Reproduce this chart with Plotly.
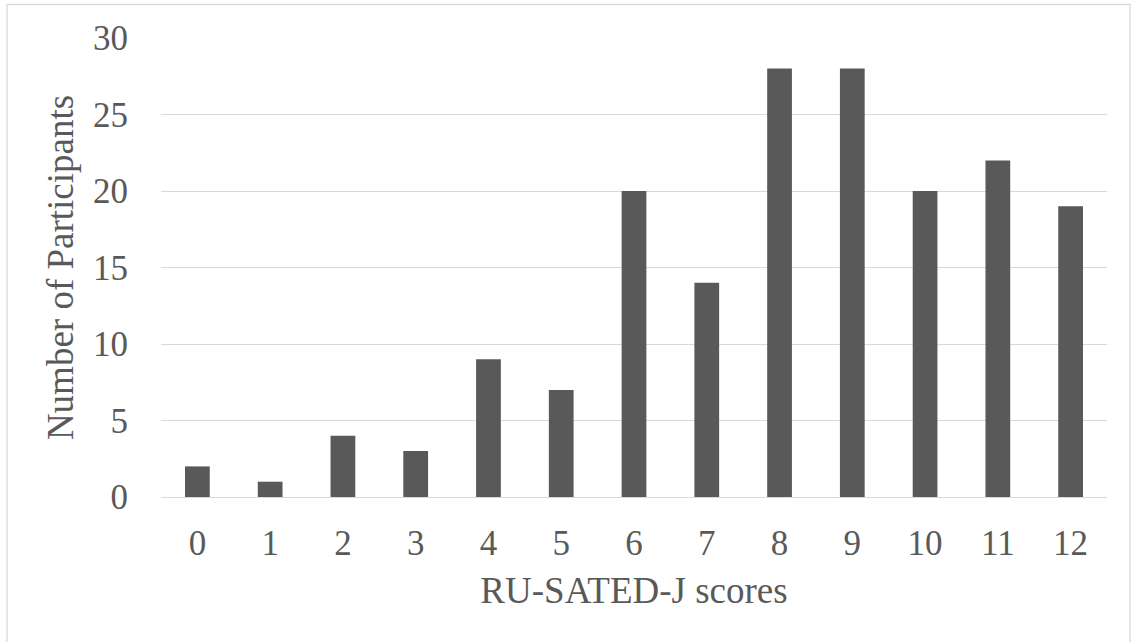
import plotly.graph_objects as go

scores = ["0", "1", "2", "3", "4", "5", "6", "7", "8", "9", "10", "11", "12"]
participants = [2, 1, 4, 3, 9, 7, 20, 14, 28, 28, 20, 22, 19]
y_ticks = [0, 5, 10, 15, 20, 25, 30]

W, H = 1131, 642
L, R, T, B = 161, 24, 38, 145
pw, ph = W - L - R, H - T - B

def px_x(x):
    return (x - L) / pw

def px_y(y):
    return (H - B - y) / ph

FONT = "Liberation Serif"
TXT = "#595959"

fig = go.Figure(go.Bar(x=scores, y=participants, marker=dict(color="#595959", line=dict(width=0)), width=0.34))

fig.update_layout(
    width=W, height=H,
    margin=dict(l=L, r=R, t=T, b=B, autoexpand=False),
    paper_bgcolor="white", plot_bgcolor="white",
    font=dict(family=FONT, size=35, color=TXT),
    showlegend=False,
    xaxis=dict(
        type="category", showgrid=False, showline=False, zeroline=False,
        ticks="", ticklabelstandoff=22,
        title=dict(text="RU-SATED-J scores", font=dict(family=FONT, size=37, color=TXT), standoff=15),
        tickfont=dict(family=FONT, size=35, color=TXT),
    ),
    yaxis=dict(
        range=[0, 30], tickvals=y_ticks, showgrid=True, gridcolor="#d9d9d9", gridwidth=1.3,
        zeroline=True, zerolinecolor="#d9d9d9", zerolinewidth=1.3, showline=False,
        ticks="", ticklabelstandoff=32,
        title=dict(text="Number of Participants", font=dict(family=FONT, size=37, color=TXT), standoff=8),
        tickfont=dict(family=FONT, size=35, color=TXT),
    ),
    shapes=[dict(type="rect", xref="paper", yref="paper",
                 x0=px_x(7), x1=px_x(1130), y0=px_y(700), y1=px_y(4.5),
                 line=dict(color="#d9d9d9", width=1.3), fillcolor="rgba(0,0,0,0)", layer="below")],
)

fig.write_html("out.html", config={"displayModeBar": False},
               post_script="document.body.style.margin='0';document.body.style.overflow='hidden';")
